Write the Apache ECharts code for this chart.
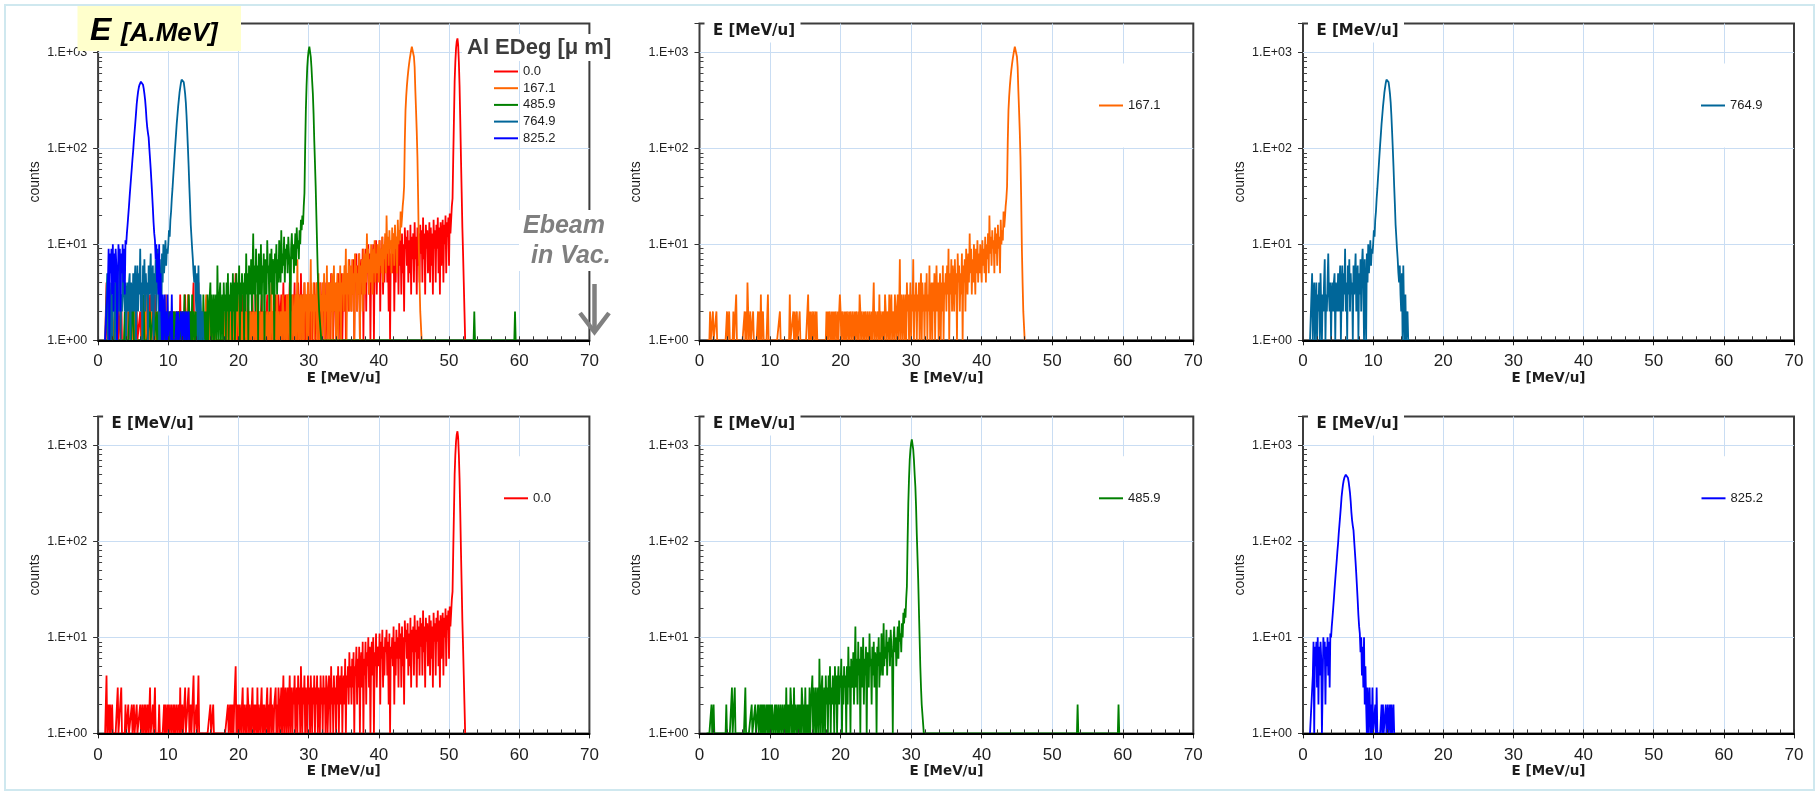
<!DOCTYPE html>
<html>
<head>
<meta charset="utf-8">
<script src="https://cdn.jsdelivr.net/npm/echarts@6/dist/echarts.min.js"></script>
<style>
  html, body { margin: 0; padding: 0; background: #ffffff; }
  #chart { width: 1819px; height: 795px; }
</style>
</head>
<body>
<div id="chart"></div>
<script>
// Energy spectra behind Al degraders of different thickness (histogram counts per bin)
const binWidth = 0.1; // MeV/u per bin, every row below is one MeV/u

const seriesNames = ['0.0', '167.1', '485.9', '764.9', '825.2'];
const seriesColors = ['#ff0000', '#ff6600', '#008000', '#006699', '#0000ff'];

// 0.0 um
const redStart = 1.0;
const redCounts = [
  1,1,4,1,1,2,1,2,1,1,
  2,1,1,1,1,1,1,1,3,1,
  1,1,1,3,1,1,1,1,1,2,
  1,1,1,2,1,1,1,1,2,1,
  1,2,1,1,1,2,1,1,1,1,
  2,1,1,2,1,1,2,1,2,1,
  1,2,1,1,3,1,1,1,2,1,
  1,3,1,1,1,1,1,2,1,1,
  1,1,1,1,2,1,2,1,1,2,
  1,2,1,1,2,1,1,2,1,2,
  1,1,2,1,1,2,1,3,1,1,
  2,1,1,1,3,1,1,1,1,3,
  1,1,2,1,1,1,4,1,1,1,
  2,1,1,4,1,1,1,1,1,1,
  1,1,1,1,1,1,1,1,1,1,
  2,1,1,1,2,1,1,1,1,1,
  1,1,1,1,1,1,1,1,1,1,
  1,1,1,1,1,2,1,1,2,1,
  2,1,2,1,2,2,5,1,2,1,
  2,1,2,2,1,2,3,1,2,2,
  1,2,1,3,2,1,2,2,1,2,
  3,1,2,1,2,2,1,3,1,2,
  2,1,2,3,1,2,1,2,2,1,
  2,3,1,2,1,2,3,1,2,2,
  1,2,2,3,1,2,1,3,2,1,
  2,3,1,2,4,1,2,3,1,2,
  3,1,2,4,1,3,2,1,3,2,
  4,1,2,3,1,4,2,3,1,5,
  2,1,3,2,4,1,3,2,1,4,
  2,3,1,4,2,1,3,2,4,1,
  3,2,4,1,3,2,1,4,2,3,
  1,4,2,3,1,4,3,1,2,4,
  3,1,5,2,3,1,4,2,3,1,
  4,2,5,1,3,4,2,5,1,3,
  4,2,6,1,4,3,5,2,7,3,
  5,2,6,3,7,1,5,4,8,2,
  6,3,8,1,5,7,3,9,1,6,
  4,9,2,7,5,10,3,8,1,6,
  9,4,10,1,7,5,11,3,8,6,
  5,11,2,9,6,12,3,8,4,10,
  7,12,4,9,2,11,1,8,6,10,
  5,13,2,9,4,12,6,10,3,14,
  6,11,3,13,5,10,2,15,9,12,
  6,14,4,11,5,16,3,12,7,13,
  4,17,7,12,3,15,6,13,4,16,
  8,14,4,19,7,13,3,16,9,14,
  5,8,17,4,15,6,13,3,18,9,
  14,4,16,9,19,5,15,3,17,6,
  11,18,4,16,10,20,5,17,12,19,
  6,21,13,18,25,30,80,200,500,800,
  1100,1300,1400,1200,800,450,200,80,35,15,
  8,4,2,1,1
];

// 167.1 um
const orangeStart = 1.0;
const orangeCounts = [
  1,1,1,1,1,2,1,1,1,2,
  1,1,1,1,2,1,1,1,1,1,
  1,1,1,1,1,1,1,1,1,2,
  1,1,2,1,1,1,1,1,2,1,
  1,1,3,1,1,1,1,1,1,1,
  1,1,1,1,2,1,2,1,4,2,
  1,1,2,1,1,1,2,1,1,1,
  1,1,1,2,1,2,1,3,1,1,
  2,1,1,1,1,1,1,3,1,1,
  1,1,1,1,1,1,1,1,1,1,
  1,1,1,1,2,1,1,1,1,1,
  1,1,1,1,1,1,1,1,3,1,
  1,1,1,2,1,2,1,1,2,1,
  1,1,2,1,1,1,1,1,1,1,
  1,1,1,1,3,1,2,1,2,1,
  1,2,1,1,2,1,2,1,1,1,
  1,1,1,1,1,1,1,1,1,1,
  2,1,2,1,2,2,1,2,1,2,
  1,2,1,2,2,1,2,1,2,3,
  2,1,2,2,1,2,1,2,1,2,
  2,1,2,1,2,2,1,2,2,1,
  2,1,2,2,1,2,1,3,2,1,
  2,2,1,2,1,2,2,1,2,2,
  1,2,2,1,2,1,2,4,1,2,
  2,1,2,2,1,3,1,2,2,1,
  2,2,1,3,2,1,2,2,1,3,
  1,2,3,1,2,2,1,3,2,1,
  2,3,1,2,7,1,3,2,1,3,
  2,1,3,1,4,2,3,1,2,4,
  1,3,2,7,1,3,2,4,1,3,
  2,4,1,3,5,1,4,2,3,1,
  4,2,5,1,3,2,6,1,3,4,
  1,4,2,5,1,3,6,2,4,1,
  3,5,1,4,2,6,1,4,3,5,
  2,6,3,9,1,5,3,7,2,6,
  4,2,7,3,5,1,8,4,6,2,
  5,3,8,1,6,4,7,2,9,5,
  3,8,4,13,5,9,3,7,4,10,
  6,3,9,5,11,4,8,5,10,6,
  4,11,6,9,5,12,4,10,7,13,
  5,20,8,12,6,14,9,11,5,15,
  8,13,6,16,9,12,5,18,10,14,
  11,22,15,19,25,30,40,120,250,350,
  450,550,650,750,850,950,1050,1150,1200,1100,
  900,700,400,250,150,80,30,9,4,2,
  2,1,1,1,1
];

// 485.9 um
const greenStart = 1.0;
const greenCounts = [
  1,1,1,1,1,1,1,2,1,1,
  2,1,1,1,1,1,1,1,1,1,
  1,1,1,1,1,1,1,1,2,1,
  1,1,1,1,1,1,3,1,1,1,
  3,1,1,1,1,1,1,1,1,1,
  1,1,1,1,1,3,1,1,1,1,
  1,1,1,1,2,1,1,1,1,2,
  1,1,1,2,1,1,2,1,2,1,
  2,1,2,1,1,2,1,2,1,2,
  1,2,1,2,2,1,1,2,1,2,
  2,1,2,1,1,2,1,1,2,1,
  1,2,1,3,1,2,1,2,1,3,
  2,1,2,1,3,1,2,2,1,2,
  1,2,1,2,1,3,2,1,2,1,
  3,1,2,1,2,1,3,1,2,2,
  4,1,3,2,1,3,1,2,3,1,
  6,2,1,3,4,1,2,3,1,4,
  2,3,1,4,2,5,1,3,2,4,
  3,1,5,2,4,1,3,5,2,4,
  3,6,1,4,2,5,3,4,1,5,
  2,8,3,5,1,6,4,3,7,2,
  5,13,3,6,2,9,4,6,1,8,
  5,3,10,2,6,4,8,1,7,5,
  3,11,5,6,2,8,4,9,3,7,
  6,1,8,5,10,3,7,4,11,6,
  4,14,5,8,6,12,4,9,7,10,
  5,12,8,6,1,9,13,7,10,5,
  8,13,6,15,9,11,7,14,10,18,
  14,20,16,25,34,100,250,450,700,900,
  1050,1150,1100,900,700,500,370,230,120,70,
  40,20,10,5,3,2,2,2,1,1,
  1,1
];
// isolated high-energy bins of the 485.9 um run
const greenStrayStarts = [53.5, 59.3];
const greenStrayCounts = [[1, 2, 1], [1, 2, 1]];

// 764.9 um
const tealStart = 1.0;
const tealCounts = [
  1,1,1,5,1,3,4,1,2,4,
  1,3,2,4,1,5,2,1,3,2,
  4,7,1,3,2,4,8,3,2,4,
  1,3,4,2,4,5,1,4,3,2,
  5,2,4,6,1,3,6,2,5,3,
  9,2,4,1,6,3,7,2,5,3,
  4,1,6,3,5,8,2,4,6,1,
  5,3,7,2,6,9,4,1,7,3,
  1,8,4,10,5,7,11,6,9,8,
  10,14,12,18,22,30,38,50,65,85,
  110,140,180,220,270,320,380,430,480,520,
  540,530,490,430,370,300,220,150,100,65,
  40,26,16,12,9,7,5,4,6,3,
  2,5,1,6,2,1,3,1,1,2,
  1,1,1
];

// 825.2 um
const blueStart = 1.0;
const blueCounts = [
  1,1,1,1,4,9,1,8,5,9,
  3,10,2,8,4,9,6,1,3,10,
  7,9,2,8,5,10,4,9,3,11,
  10,13,16,20,25,32,40,50,62,78,
  95,122,150,185,230,290,340,390,430,460,
  480,495,500,490,460,420,370,320,260,200,
  165,145,130,100,78,60,45,33,24,17,
  13,11,7,10,4,8,3,10,2,5,
  2,1,3,1,2,3,1,2,1,3,
  1,1,1,2,1,3,1,1,1,1,
  1,1,2,1,2,1,1,1,2,1,
  1,2,1,1,2,1,2,1,1,2,
  1
];

// axis ranges and tick values
const energyMin = 0, energyMax = 70, energyMajorStep = 10, energyMinorStep = 2;
const countMin = 1, countMax = 2000;
const countMinorTicks = [2,3,4,5,6,7,8,9, 20,30,40,50,60,70,80,90, 200,300,400,500,600,700,800,900];

function toPoints(start, counts) {
  return counts.map((c, i) => [+(start + i * binWidth).toFixed(2), c]);
}

const spectra = [
  toPoints(redStart, redCounts),
  toPoints(orangeStart, orangeCounts),
  toPoints(greenStart, greenCounts)
    .concat(toPoints(greenStrayStarts[0], greenStrayCounts[0]))
    .concat(toPoints(greenStrayStarts[1], greenStrayCounts[1])),
  toPoints(tealStart, tealCounts),
  toPoints(blueStart, blueCounts)
];

// panel layout (pixels)
const colLeft = [98.1, 699.5, 1303];
const colWidth = [491.3, 493.8, 491];
const rowTop = [23.5, 416.4];
const rowHeight = [316.8, 317];

const panels = [
  { row: 0, col: 0, members: [0, 1, 2, 3, 4], legend: { left: 494, top: 64.5 }, title: false },
  { row: 0, col: 1, members: [1], legend: { left: 1099, top: 98.5 }, title: true },
  { row: 0, col: 2, members: [3], legend: { left: 1701, top: 98.5 }, title: true },
  { row: 1, col: 0, members: [0], legend: { left: 504, top: 491.3 }, title: true },
  { row: 1, col: 1, members: [2], legend: { left: 1099, top: 491.3 }, title: true },
  { row: 1, col: 2, members: [4], legend: { left: 1701.5, top: 491.3 }, title: true }
];

const textDark = '#1e1e1e';
const gridBlue = '#c9ddf3';

function countLabel(v) {
  const p = Math.log10(v);
  if (Math.abs(p - Math.round(p)) > 1e-6) return '';
  const e = Math.round(p);
  return '1.E+' + (e < 10 ? '0' + e : String(e));
}

const grids = [], xAxes = [], yAxes = [], legends = [], series = [];
const graphics = [];

panels.forEach((p) => {
  grids.push({
    left: colLeft[p.col], top: rowTop[p.row], width: colWidth[p.col], height: rowHeight[p.row],
    show: true, borderColor: '#3c3c3c', borderWidth: 2,
    backgroundColor: 'transparent', containLabel: false, outerBoundsMode: 'none'
  });
});

// primary axes: labels, major ticks, grid lines (drawn below the spectra)
panels.forEach((p, i) => {
  xAxes.push({
    type: 'value', gridIndex: i, position: 'bottom', min: energyMin, max: energyMax, interval: energyMajorStep,
    z: 0,
    axisLine: { show: false },
    axisTick: { show: true, inside: false, length: 5, lineStyle: { color: '#222', width: 1 } },
    axisLabel: { show: true, margin: 13, fontSize: 17, color: textDark, fontFamily: 'Liberation Sans' },
    splitLine: { show: true, showMinLine: false, showMaxLine: false, lineStyle: { color: gridBlue, width: 1 } },
    name: 'E [MeV/u]', nameLocation: 'middle', nameGap: 27,
    nameTextStyle: { fontSize: 13.5, fontWeight: 'bold', color: textDark, fontFamily: 'DejaVu Sans' }
  });
  yAxes.push({
    type: 'log', logBase: 10, gridIndex: i, position: 'left', min: countMin, max: countMax,
    z: 0,
    axisLine: { show: false },
    axisTick: { show: true, inside: false, length: 5, lineStyle: { color: '#333', width: 1 } },
    axisLabel: { show: true, margin: 11, fontSize: 12.5, color: textDark, fontFamily: 'Liberation Sans', formatter: countLabel },
    splitLine: { show: true, showMinLine: false, showMaxLine: false, lineStyle: { color: gridBlue, width: 1 } },
    name: 'counts', nameLocation: 'middle', nameGap: 56, nameRotate: 90,
    nameTextStyle: { fontSize: 14, color: textDark, fontFamily: 'Liberation Sans' }
  });
});
// secondary axes: baseline drawn over the spectra, and inside minor ticks
panels.forEach((p, i) => {
  xAxes.push({
    type: 'value', gridIndex: i, position: 'bottom', offset: 0, min: energyMin, max: energyMax, interval: energyMinorStep,
    z: 3,
    axisLine: { show: true, lineStyle: { color: '#000', width: 2 } },
    axisTick: { show: true, inside: true, length: 4, lineStyle: { color: '#333', width: 1 } },
    axisLabel: { show: false },
    splitLine: { show: false }
  });
  yAxes.push({
    type: 'log', logBase: 10, gridIndex: i, position: 'left', offset: 0, min: countMin, max: countMax,
    z: 3,
    axisLine: { show: false },
    axisTick: { show: true, inside: true, length: 4, customValues: countMinorTicks, lineStyle: { color: '#444', width: 1 } },
    axisLabel: { show: false },
    splitLine: { show: false }
  });
});

panels.forEach((p, i) => {
  p.members.forEach(k => {
    series.push({
      type: 'line', name: seriesNames[k], xAxisIndex: i, yAxisIndex: i,
      data: spectra[k], symbol: 'none', showSymbol: false, silent: true,
      lineStyle: { color: seriesColors[k], width: 1.8 },
      itemStyle: { color: seriesColors[k] },
      emphasis: { disabled: true }, clip: true, z: 2
    });
  });
  legends.push({
    show: true, left: p.legend.left, top: p.legend.top, orient: 'vertical',
    padding: 0, itemGap: 2.7, itemWidth: 24, itemHeight: 2, icon: 'rect', selectedMode: false,
    data: p.members.map(k => seriesNames[k]),
    textStyle: { fontSize: 13, color: textDark, fontFamily: 'Liberation Sans', lineHeight: 14 }
  });
  const left = colLeft[p.col], top = rowTop[p.row];
  if (p.members.length === 1) {
    // plain backing behind a single-entry legend
    graphics.push({
      type: 'rect', z: 1, silent: true,
      shape: { x: p.legend.left - 10, y: p.legend.top + 7 - 42, width: 84, height: 84 },
      style: { fill: '#ffffff' }
    });
  }
  if (p.title) {
    graphics.push({
      type: 'rect', z: 5, silent: true,
      shape: { x: left + 5, y: top - 4, width: 96, height: 23 },
      style: { fill: '#ffffff' }
    });
    graphics.push({
      type: 'text', z: 6, silent: true, x: left + 13.5, y: top + 7.5,
      style: { text: 'E [MeV/u]', font: 'bold 15px "DejaVu Sans"', fill: '#1a1a1a', verticalAlign: 'middle', align: 'left' }
    });
  }
});

// outer frame
graphics.push({
  type: 'rect', z: 0, silent: true,
  shape: { x: 5, y: 5, width: 1809, height: 785 },
  style: { fill: 'none', stroke: '#cfe8ef', lineWidth: 2 }
});
// headline box of the overlay panel
graphics.push({
  type: 'rect', z: 10, silent: true,
  shape: { x: 77.5, y: 6, width: 163.5, height: 45 },
  style: { fill: '#ffffcc' }
});
graphics.push({
  type: 'text', z: 11, silent: true, x: 90, y: 31,
  style: { text: 'E', font: 'italic bold 32px "Liberation Sans"', fill: '#000', verticalAlign: 'middle' }
});
graphics.push({
  type: 'text', z: 11, silent: true, x: 121, y: 34,
  style: { text: '[A.MeV]', font: 'italic bold 26px "Liberation Sans"', fill: '#000', verticalAlign: 'middle' }
});
// legend heading
graphics.push({
  type: 'rect', z: 5, silent: true,
  shape: { x: 462, y: 34, width: 154, height: 27 },
  style: { fill: '#ffffff' }
});
graphics.push({
  type: 'text', z: 6, silent: true, x: 467, y: 48,
  style: { text: 'Al EDeg [μ m]', font: 'bold 22px "Liberation Sans"', fill: '#3c3c3c', verticalAlign: 'middle' }
});
// beam energy note and arrow
graphics.push({
  type: 'rect', z: 5, silent: true,
  shape: { x: 519, y: 210, width: 101, height: 61 },
  style: { fill: '#ffffff' }
});
graphics.push({
  type: 'text', z: 6, silent: true, x: 523, y: 226,
  style: { text: 'Ebeam', font: 'italic bold 25px "Liberation Sans"', fill: '#7f7f7f', verticalAlign: 'middle' }
});
graphics.push({
  type: 'text', z: 6, silent: true, x: 531, y: 256,
  style: { text: 'in Vac.', font: 'italic bold 25px "Liberation Sans"', fill: '#7f7f7f', verticalAlign: 'middle' }
});
graphics.push({
  type: 'polyline', z: 6, silent: true,
  shape: { points: [[594.5, 284], [594.5, 330]] },
  style: { stroke: '#808080', lineWidth: 4.5, fill: 'none' }
});
graphics.push({
  type: 'polyline', z: 6, silent: true,
  shape: { points: [[580, 313], [594.5, 332], [609, 313]] },
  style: { stroke: '#808080', lineWidth: 4.5, fill: 'none', lineJoin: 'miter' }
});

const chart = echarts.init(document.getElementById('chart'), null, { renderer: 'canvas' });
chart.setOption({
  animation: false,
  backgroundColor: '#ffffff',
  textStyle: { fontFamily: 'Liberation Sans' },
  tooltip: { show: false },
  grid: grids,
  xAxis: xAxes,
  yAxis: yAxes,
  legend: legends,
  series: series,
  graphic: { elements: graphics }
});
</script>
</body>
</html>
